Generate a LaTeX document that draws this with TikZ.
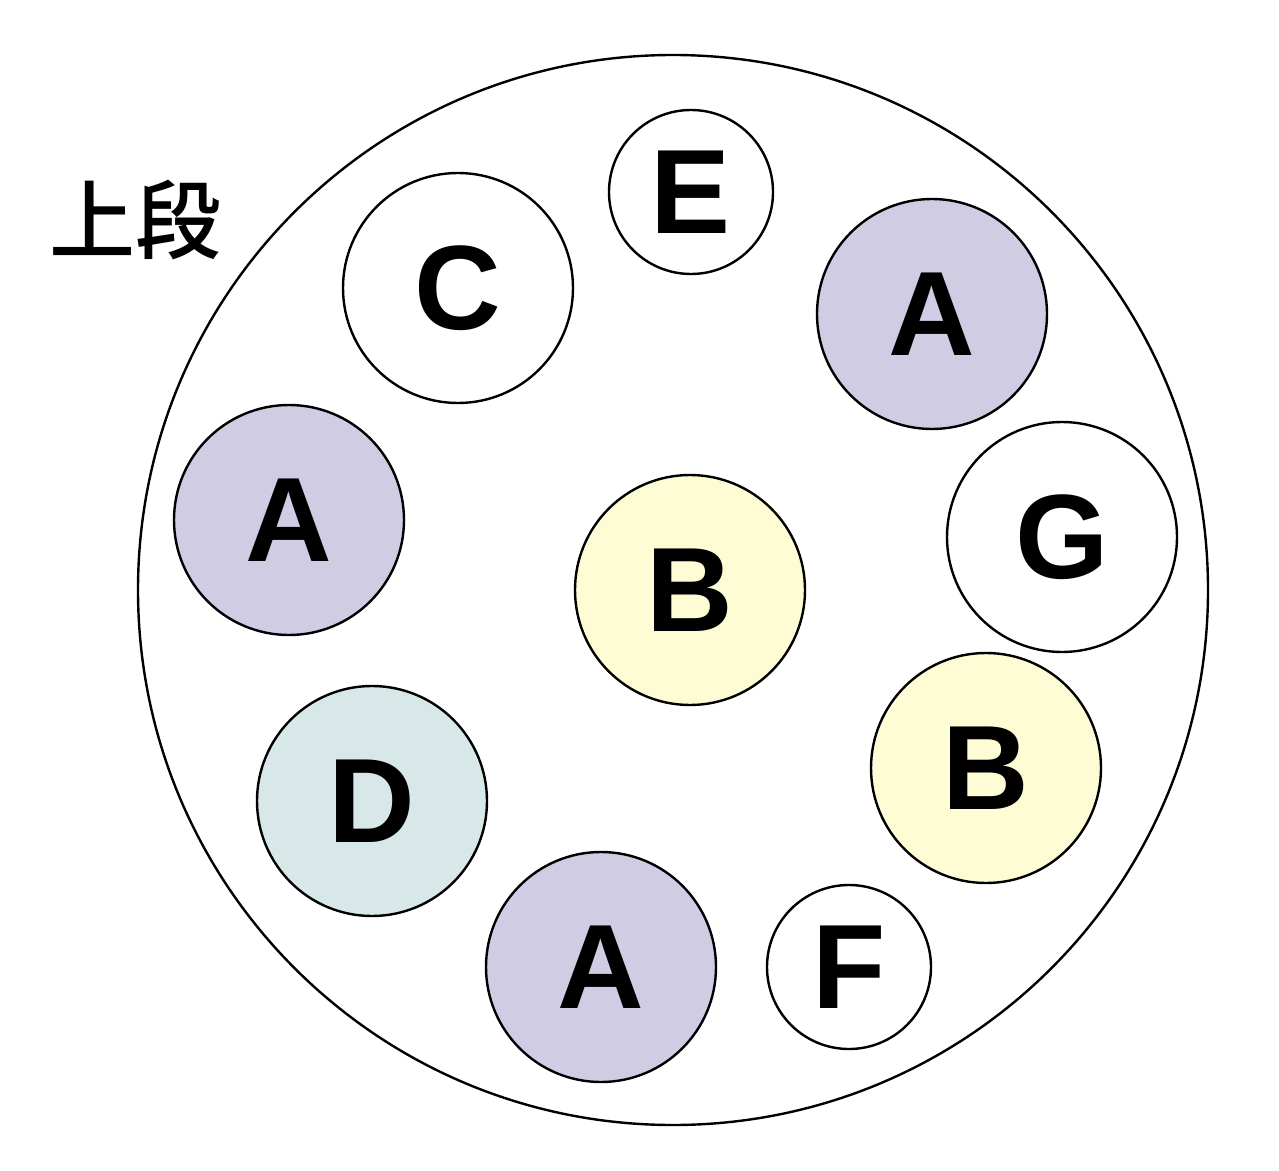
\documentclass[tikz,border=0pt]{standalone}
\usepackage{fontspec}
\setmainfont{Liberation Sans}
\newfontfamily\cjk{Noto Sans CJK JP Medium}
\definecolor{cA}{HTML}{D0CCE4}
\definecolor{cB}{HTML}{FEFCD5}
\definecolor{cD}{HTML}{D8E8E8}
\begin{document}
\begin{tikzpicture}[x=0.5pt,y=-0.5pt,
 ball/.style={circle,draw=black,line width=1.2pt,inner sep=0pt,font=\bfseries\fontsize{60}{60}\selectfont},
 big/.style={ball,minimum size=115pt},
 small/.style={ball,minimum size=82pt}]
\useasboundingbox (0,0) rectangle (1279,1171);
\node[circle,draw,line width=1.2pt,minimum size=535pt,inner sep=0pt] (outer) at (673,590) {};
\node[font=\cjk\fontsize{43}{43}\selectfont] (lbl) at (135,220) {上段};
\node[small,fill=white] (E) at (691,192) {E};
\node[big,fill=white] (C) at (458,288) {C};
\node[big,fill=cA] (A1) at (932,314) {A};
\node[big,fill=cA] (A2) at (289,520) {A};
\node[big,fill=cB] (B1) at (690,590) {B};
\node[big,fill=white] (G) at (1062,537) {G};
\node[big,fill=cB] (B2) at (986,768) {B};
\node[big,fill=cD] (D) at (372,801) {D};
\node[big,fill=cA] (A3) at (601,967) {A};
\node[small,fill=white] (F) at (849,967) {F};
\end{tikzpicture}
\end{document}
